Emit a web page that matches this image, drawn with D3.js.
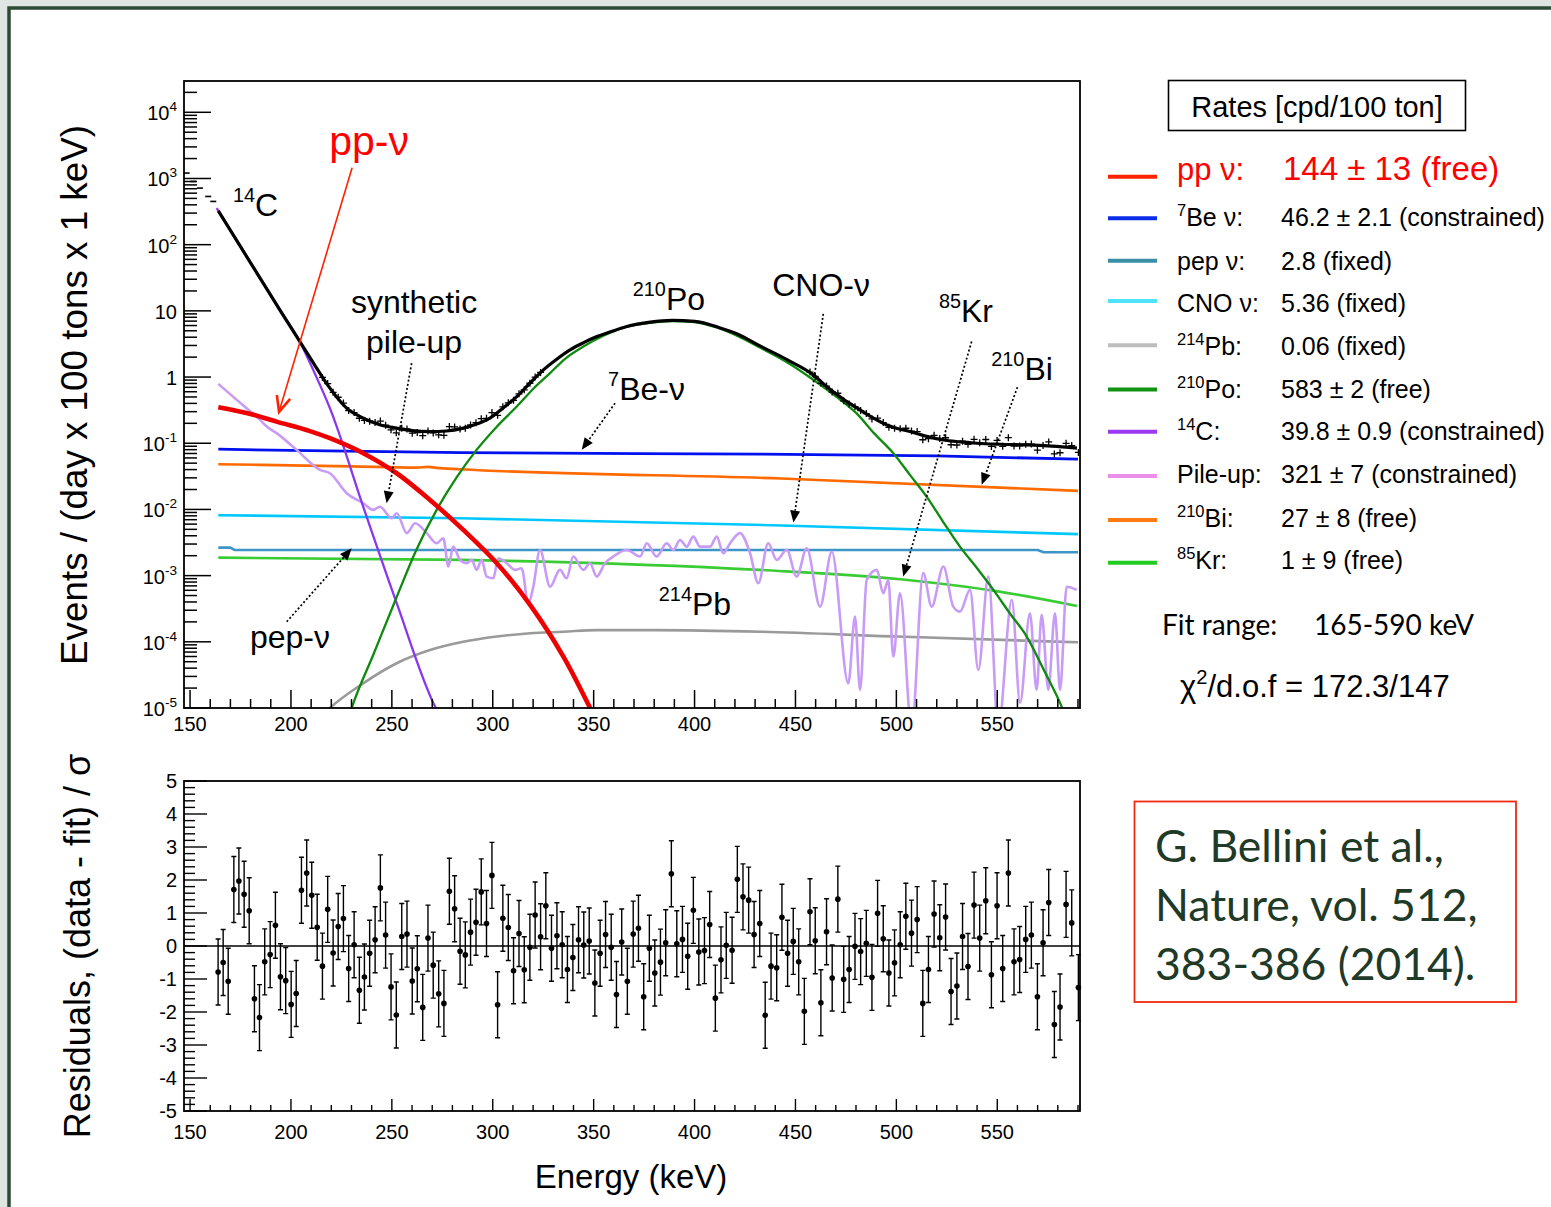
<!DOCTYPE html>
<html><head><meta charset="utf-8">
<script src="https://cdn.jsdelivr.net/npm/d3@7"></script>
<style>html,body{margin:0;padding:0;background:#dde5df;overflow:hidden}svg{display:block}</style>
</head><body>
<svg id="c" width="1551" height="1207"></svg>
<script>
// ---------------- DATA ----------------
// total fit (black)
const totalE = [164,175,185,195,204.5,212,219.3,227.6,235.9,244,252.4,260,268.9,277,285.4,292,298.6,305,311.9,318.5,325.1,331.7,338.3,345,351.6,358,366,378,389,400,412,422,432.4,446,458.8,465.4,473.5,482,488.7,495.3,506.8,515,523.3,531.6,539.9,552,564.6,577,589.5];
const totalV = [323.6,93.3,30.2,9.77,3.40,1.479,0.679,0.339,0.239,0.1905,0.169,0.155,0.150,0.153,0.169,0.195,0.239,0.339,0.507,0.813,1.285,1.862,2.576,3.311,4.093,4.786,5.754,6.761,7.161,6.918,5.623,4.365,2.951,1.820,1.079,0.718,0.468,0.319,0.240,0.189,0.150,0.127,0.112,0.105,0.100,0.0966,0.0944,0.0902,0.0841];
// data points below fit range
const preFitE = [148.3,151.6,154.9,159.0,161.5];
const preFitV = [1208,902,716,535,450];
// pp neutrinos
const ppE = [164,179,192.9,209,219.3,235.8,252.4,268.9,285.4,302,318.5,335,348.2,352];
const ppV = [0.351,0.282,0.212,0.154,0.119,0.0708,0.0352,0.0139,0.0049,0.00154,3.61e-4,5.98e-5,1.01e-5,6e-6];
// 7Be neutrinos
const be7E = [164,200,284,433,520,590];
const be7V = [0.0813,0.078,0.0723,0.0684,0.0644,0.0574];
// 210Bi
const bi210E = [164,230,262,268,272,284,443,590];
const bi210V = [0.0482,0.0447,0.0428,0.0440,0.0425,0.0405,0.0293,0.0191];
// CNO
const cnoE = [164,284,443,590];
const cnoV = [0.00819,0.00736,0.00573,0.00423];
// pep
const pepE = [164,170,172,570,573,590];
const pepV = [0.00265,0.00265,0.00244,0.00244,0.00226,0.00226];
// 85Kr
const kr85E = [164,284,432,502,551,589.5];
const kr85V = [1.87e-3,1.73e-3,1.22e-3,8.81e-4,5.73e-4,3.48e-4];
// 214Pb
const pb214E = [212,219.3,235.8,252.4,268.9,285.4,302,318.5,335,351.5,380,433,500,590];
const pb214V = [6e-6,1e-5,2.36e-5,4.74e-5,7.5e-5,1.0e-4,1.2e-4,1.35e-4,1.42e-4,1.5e-4,1.5e-4,1.42e-4,1.2e-4,9.84e-5];
// 210Po
const po210E = [229,230.1,241,252.4,262,272.2,282,292,302,311.9,320,328.4,336,344.9,354.8,366,378,389,400,412,422,432.4,446,458.8,470.4,480.3,489,498.5,507,515,523,531.5,540,548.1,556,564.6,573,581.9,586];
const po210V = [7.9e-6,1.0e-5,6.6e-5,4.76e-4,2.40e-3,9.84e-3,0.0302,0.0794,0.178,0.358,0.661,1.146,1.905,2.891,4.198,5.728,6.607,6.998,6.761,5.458,4.074,2.793,1.660,0.912,0.501,0.282,0.141,0.0708,0.0324,0.0156,6.61e-3,2.74e-3,1.29e-3,6.08e-4,2.75e-4,1.20e-4,3.80e-5,1.05e-5,5.0e-6];
// 14C
const c14E = [163.2,173.5,183.8,194.2,204.5,211.9,219.3,235.8,252.4,271.7,273.9];
const c14V = [357,111,34.7,10.8,3.37,1.12,0.339,0.0110,3.83e-4,1.01e-5,7.6e-6];
// synthetic pile-up
const pileE = [164.0,173.1,184.7,188.0,192.9,202.8,214.4,219.3,227.6,235.8,240.8,244.1,249.9,252.4,257.4,261.5,267.3,272.2,275.5,278.0,280.4,283.8,287.1,289.6,292.0,294.5,297.0,300.3,302.7,306.9,311.0,314.3,317.6,320.1,323.4,328.4,333.3,336.6,339.9,344.9,348.2,351.5,355.6,359.7,366.4,373.0,376.3,381.2,386.2,389.5,392.8,396.1,399.4,402.7,407.7,411.0,414.2,417.6,422.5,427.5,431.6,436.5,440.7,445.7,450.6,455.6,462.2,468.0,476.2,479.5,482.0,485.3,490.3,493.5,496.0,498.5,501.8,507.6,513.3,517.5,523.3,528.2,531.5,536.5,540.6,545.6,550.5,557.2,561.3,566.2,569.5,572.0,575.3,578.6,581.1,584.4,589.4];
const pileV = [0.789,0.452,0.225,0.179,0.142,0.0794,0.0395,0.0352,0.0176,0.0124,0.00984,0.0110,0.00736,0.00877,0.00438,0.00619,0.00438,0.00308,0.00367,0.00137,0.00274,0.00173,0.00154,0.00173,0.00122,0.00173,0.000966,0.000912,0.00183,0.00154,0.00122,0.00129,0.000383,0.00068,0.00244,0.00068,0.00122,0.000912,0.00194,0.00122,0.00154,0.000966,0.00154,0.00194,0.00244,0.00194,0.00308,0.00194,0.00308,0.00244,0.00346,0.00274,0.00388,0.00274,0.00274,0.00388,0.00218,0.00308,0.00438,0.00218,0.000767,0.00308,0.00173,0.00244,0.000966,0.00259,0.00034,0.0023,2.36e-5,2.4e-4,1.87e-5,8.6e-4,0.00122,5.42e-4,8.6e-4,5.95e-5,5.42e-4,5e-6,1.09e-3,3.4e-4,1.37e-3,3.4e-4,2.86e-4,6.08e-4,3.75e-5,9.66e-4,5e-6,4.28e-4,1.2e-5,2.7e-4,1.87e-5,2.55e-4,1.87e-5,2.7e-4,1.87e-5,6.8e-4,6.08e-4];
// residuals
const resE = [163.9,166.4,168.9,171.7,174.2,176.8,179.3,181.9,184.4,187.0,189.7,192.3,194.8,197.4,200.1,202.6,205.2,207.8,210.3,213.0,215.6,218.2,220.9,223.4,226.0,228.6,231.3,233.9,236.4,239.0,241.7,244.3,246.9,249.6,252.2,254.9,257.5,260.1,262.6,265.3,267.9,270.5,273.2,275.8,278.5,281.1,283.8,286.4,289.0,291.7,294.3,296.9,299.6,302.4,305.0,307.7,310.3,313.0,315.6,318.4,321.0,323.7,326.3,329.1,331.8,334.4,337.0,339.7,342.5,345.1,347.8,350.6,353.2,355.9,358.7,
361.3,363.9,366.7,369.6,372.2,374.8,377.6,380.3,383.1,385.7,388.5,391.2,394.0,396.6,399.4,402.1,404.9,407.5,410.3,413.1,415.7,418.6,421.2,424.0,426.8,429.5,432.3,435.0,437.9,440.7,443.3,446.1,448.9,451.6,454.4,457.2,459.8,462.6,465.4,468.2,471.0,473.9,476.6,479.5,482.3,485.1,487.9,490.7,493.5,496.3,499.1,501.9,504.7,507.5,510.3,513.1,515.9,518.7,521.5,524.4,527.1,530.0,532.8,535.5,538.5,541.3,544.3,547.1,549.9,552.7,555.5,558.3,561.1,564.1,566.9,569.9,572.7,575.5,578.3,581.1,584.1,586.9,590.2];
const resV = [-0.79,-0.5,-1.07,1.71,1.97,1.57,1.07,-1.6,-2.17,-0.48,-0.26,0.63,-0.93,-1.05,-1.77,-1.44,1.69,2.21,1.54,0.57,-0.61,1.11,-0.21,0.59,0.83,-0.68,0.04,-1.34,-0.94,-0.22,0.19,1.76,0.33,-1.24,-2.09,0.29,0.36,-1.06,-0.69,-1.86,0.24,-0.58,-1.45,-1.74,1.66,1.13,-0.16,-0.27,0.42,0.72,1.64,0.68,2.14,-1.78,0.84,0.56,-0.75,0.38,-0.72,-0.04,0.94,0.28,1.22,-0.07,0.31,0.04,-0.71,-0.35,0.19,0.03,0.15,-1.12,-0.22,0.35,-0.04,
-1.47,0.12,-1.07,0.36,0.54,-1.54,-0.07,-0.82,-0.49,0.1,2.19,0.07,0.2,-0.31,1.08,-0.18,-0.14,0.65,-1.58,-0.42,0.02,-0.13,2.02,1.49,1.39,0.35,0.68,-2.1,-0.61,-0.66,0.87,-0.22,0.14,-0.48,-1.98,1.04,0.16,-1.72,0.43,-0.97,1.42,-1.01,-0.71,-0.01,-0.17,0.08,-0.95,0.99,0.22,-0.82,-0.51,0.04,0.9,0.39,0.8,-1.74,-0.71,0.97,0.25,0.88,-1.38,-1.21,0.29,-0.62,1.24,0.24,1.37,-0.87,1.22,-0.68,2.21,-0.48,-0.41,0.2,0.33,-1.54,0.1,1.32,-2.38,-1.85,1.26,0.7,-1.26];
const resErr = 1.0;

// tick labels
const xMajorTicks = [150,200,250,300,350,400,450,500,550];
const xTickLabels = ["150","200","250","300","350","400","450","500","550"];
const logDecades = [-5,-4,-3,-2,-1,0,1,2,3,4];
const logTickLabels = [["10","-5"],["10","-4"],["10","-3"],["10","-2"],["10","-1"],["1",""],["10",""],["10","2"],["10","3"],["10","4"]];
const resMajorTicks = [-5,-4,-3,-2,-1,0,1,2,3,4,5];
const resTickLabels = ["-5","-4","-3","-2","-1","0","1","2","3","4","5"];

// legend
const legendSup = ["","7","","","214","210","14","","210","85"];
const legendName = ["pp \u03bd:","Be \u03bd:","pep \u03bd:","CNO \u03bd:","Pb:","Po:","C:","Pile-up:","Bi:","Kr:"];
const legendValue = ["144 \u00b1 13 (free)","46.2 \u00b1 2.1 (constrained)","2.8 (fixed)","5.36 (fixed)","0.06 (fixed)","583 \u00b1 2 (free)","39.8 \u00b1 0.9 (constrained)","321 \u00b1 7 (constrained)","27 \u00b1 8 (free)","1 \u00b1 9 (free)"];
const legendColor = ["#ff2200","#0a2ee8","#3a8fa6","#4ee3f8","#bdbdbd","#129212","#9b38f5","#ea8eea","#ff7a10","#22cc22"];

// ---------------- LAYOUT ----------------
const FONT = "'Liberation Sans', Arial, Helvetica, sans-serif";
const CAL = "Lato, 'Open Sans', sans-serif";
const X0=184, X1=1080, TY0=81, TY1=708, RY0=781, RY1=1111;
const x = d3.scaleLinear().domain([147,591]).range([X0,X1]);
const y = d3.scaleLog().domain([1e-5, 2.97e4]).range([TY1,TY0]);
const yr = d3.scaleLinear().domain([-5,5]).range([RY1,RY0]);

const svg = d3.select("#c").attr("font-family", FONT);
svg.append("rect").attr("width",1551).attr("height",1207).attr("fill","#dfe6e1");
svg.append("rect").attr("x",9).attr("y",8).attr("width",1600).attr("height",1300)
  .attr("fill","#fff").attr("stroke","#2d4a34").attr("stroke-width",3.5);

const defs = svg.append("defs");
defs.append("clipPath").attr("id","clipTop").append("rect")
  .attr("x",X0).attr("y",TY0).attr("width",X1-X0).attr("height",TY1-TY0);

function rich(parent, px, py, segs, size, opt={}) {
  const t = parent.append("text").attr("x",px).attr("y",py).attr("font-size",size)
    .attr("text-anchor", opt.anchor||"start").attr("fill", opt.fill||"#000")
    .attr("font-family", opt.family||FONT);
  let cur = 0;
  segs.forEach(s=>{
    if (!s.t) return;
    const sh = s.sup ? -size*(opt.supShift||0.42) : 0;
    t.append("tspan").attr("dy", sh-cur).attr("font-size", s.sup ? size*(opt.supScale||0.64) : size).text(s.t);
    cur = sh;
  });
  return t;
}

// ---------------- TOP PLOT ----------------
const gTop = svg.append("g");
const plotG = gTop.append("g").attr("clip-path","url(#clipTop)");
const line = d3.line().x(d=>x(d[0])).y(d=>y(d[1])).curve(d3.curveMonotoneX);
const pts = (E,V)=>E.map((e,i)=>[e,V[i]]);

const series = [
  {E:pb214E,V:pb214V,c:"#9a9a9a",w:2.6},
  {E:kr85E,V:kr85V,c:"#3acc33",w:2.6},
  {E:pepE,V:pepV,c:"#3d95c8",w:2.6,lin:true},
  {E:cnoE,V:cnoV,c:"#00c8ff",w:2.6},
  {E:bi210E,V:bi210V,c:"#ff6a00",w:2.6},
  {E:be7E,V:be7V,c:"#0010ee",w:2.8},
  {E:pileE,V:pileV,c:"#c89cf6",w:2.6},
  {E:c14E,V:c14V,c:"#8a38ee",w:2.3},
  {E:po210E,V:po210V,c:"#0e8a0e",w:2.3},
  {E:ppE,V:ppV,c:"#ee0000",w:4.6, cat:true},
];
series.forEach(s=>{
  const l = s.lin ? d3.line().x(d=>x(d[0])).y(d=>y(d[1]))
          : s.cat ? d3.line().x(d=>x(d[0])).y(d=>y(d[1])).curve(d3.curveCatmullRom.alpha(0.5)) : line;
  plotG.append("path").attr("d", l(pts(s.E,s.V))).attr("fill","none")
    .attr("stroke", s.c).attr("stroke-width", s.w).attr("stroke-linejoin","round");
});

// data points derived from fit + residuals
function totalAt(e){
  let i = d3.bisectRight(totalE, e) - 1;
  i = Math.max(0, Math.min(totalE.length-2, i));
  const t = (e-totalE[i])/(totalE[i+1]-totalE[i]);
  return Math.pow(10, Math.log10(totalV[i]) + t*(Math.log10(totalV[i+1])-Math.log10(totalV[i])));
}
const dataG = plotG.append("g").attr("stroke","#000").attr("stroke-width",1.3);
resE.forEach((e,i)=>{
  const tv = totalAt(Math.max(e,164));
  if (tv > 1.2) return;
  const dv = tv*Math.pow(10, resV[i]*0.045*Math.sqrt(0.1/tv));
  const px = x(e), py = y(dv);
  dataG.append("path").attr("d",`M${px-3.5},${py}H${px+3.5}M${px},${py-3.5}V${py+3.5}`);
});
preFitE.forEach((e,i)=>{
  const px=x(e), py=y(preFitV[i]);
  dataG.append("path").attr("d",`M${px-3},${py}H${px+3}`).attr("stroke-width",1.6);
});
plotG.append("path").attr("d", line(pts(totalE,totalV))).attr("fill","none")
  .attr("stroke","#000").attr("stroke-width",3.2);

// frame
gTop.append("rect").attr("x",X0).attr("y",TY0).attr("width",X1-X0).attr("height",TY1-TY0)
  .attr("fill","none").attr("stroke","#000").attr("stroke-width",1.8);

// y log ticks
const axG = gTop.append("g").attr("stroke","#000").attr("stroke-width",1.5);
logDecades.forEach((d,i)=>{
  for (let k=1;k<=9;k++){
    const v = k*Math.pow(10,d);
    if (v>y.domain()[1]) continue;
    const len = k===1 ? 27 : 13;
    axG.append("line").attr("x1",X0).attr("x2",X0+len).attr("y1",y(v)).attr("y2",y(v));
  }
  const lab = logTickLabels[i];
  rich(gTop, 177, y(Math.pow(10,d))+8, [{t:lab[0]},{t:lab[1],sup:true}], 20, {anchor:"end", supShift:0.45, supScale:0.68});
});
// x ticks top
for (let e=150;e<=590;e+=10){
  const major = xMajorTicks.includes(e);
  axG.append("line").attr("x1",x(e)).attr("x2",x(e)).attr("y1",TY1).attr("y2",TY1-(major?18:9));
}
xMajorTicks.forEach((e,i)=>{
  gTop.append("text").attr("x",x(e)).attr("y",731).attr("text-anchor","middle").attr("font-size",20).text(xTickLabels[i]);
});

// annotations (anchored in data coordinates)
const annG = gTop.append("g");
rich(annG, x(171.3), y(273), [{t:"14",sup:true},{t:"C"}], 32, {supScale:0.62});
rich(annG, x(238.7), y(2280), [{t:"pp-\u03bd"}], 41, {anchor:"middle", fill:"#ff0000"});
rich(annG, x(261.0), y(9.33), [{t:"synthetic"}], 32, {anchor:"middle"});
rich(annG, x(261.0), y(2.32), [{t:"pile-up"}], 32, {anchor:"middle"});
rich(annG, x(387.3), y(10.4), [{t:"210",sup:true},{t:"Po"}], 32, {anchor:"middle",supScale:0.62});
rich(annG, x(462.7), y(16.9), [{t:"CNO-\u03bd"}], 32, {anchor:"middle"});
rich(annG, x(534.5), y(6.82), [{t:"85",sup:true},{t:"Kr"}], 32, {anchor:"middle",supScale:0.62});
rich(annG, x(562.3), y(0.908), [{t:"210",sup:true},{t:"Bi"}], 32, {anchor:"middle",supScale:0.62});
rich(annG, x(376.2), y(0.452), [{t:"7",sup:true},{t:"Be-\u03bd"}], 32, {anchor:"middle",supScale:0.62});
rich(annG, x(199.5), y(8.07e-5), [{t:"pep-\u03bd"}], 32, {anchor:"middle"});
rich(annG, x(400.2), y(2.55e-4), [{t:"214",sup:true},{t:"Pb"}], 32, {anchor:"middle",supScale:0.62});

function arrow(E1,V1,E2,V2,opt){
  const x1=x(E1),y1=y(V1),x2=x(E2),y2=y(V2);
  const ang=Math.atan2(y2-y1,x2-x1);
  if (opt.open){
    annG.append("line").attr("x1",x1).attr("y1",y1).attr("x2",x2).attr("y2",y2)
      .attr("stroke",opt.color).attr("stroke-width",1.6);
    const L=17, a=0.42;
    const p1=[x2-L*Math.cos(ang-a), y2-L*Math.sin(ang-a)];
    const p2=[x2-L*Math.cos(ang+a), y2-L*Math.sin(ang+a)];
    annG.append("path").attr("d",`M${p1[0]},${p1[1]}L${x2},${y2}L${p2[0]},${p2[1]}`)
      .attr("fill","none").attr("stroke",opt.color).attr("stroke-width",2.6);
  } else {
    const L=12, hw=5;
    const bx=x2-L*Math.cos(ang), by=y2-L*Math.sin(ang);
    annG.append("line").attr("x1",x1).attr("y1",y1).attr("x2",bx).attr("y2",by)
      .attr("stroke","#000").attr("stroke-width",1.7).attr("stroke-dasharray","2,2.2");
    const nx=-Math.sin(ang), ny=Math.cos(ang);
    annG.append("path").attr("d",`M${x2},${y2}L${bx+nx*hw},${by+ny*hw}L${bx-nx*hw},${by-ny*hw}Z`).attr("fill","#000");
  }
}
arrow(230.3,1452,194.1,0.298,{open:true,color:"#ff2200"});
arrow(259.8,1.62,247.4,0.0124,{});
arrow(463.8,9.02,449.0,0.00632,{});
arrow(537.3,3.44,503.4,9.66e-4,{});
arrow(560.0,0.703,542.3,0.0235,{});
arrow(360.6,0.403,344.1,0.0794,{});
arrow(197.9,2.01e-4,230.1,2.59e-3,{});

// y title
svg.append("text").attr("transform","translate(87,395) rotate(-90)").attr("text-anchor","middle")
  .attr("font-size",36.8).text("Events / (day x 100 tons x 1 keV)");

// ---------------- RESIDUALS ----------------
const gRes = svg.append("g");
gRes.append("line").attr("x1",X0).attr("x2",X1).attr("y1",yr(0)).attr("y2",yr(0)).attr("stroke","#000").attr("stroke-width",1.6);
const rG = gRes.append("g").attr("stroke","#000").attr("stroke-width",1.4);
resE.forEach((e,i)=>{
  const px=x(e), lo=yr(resV[i]-resErr), hi=yr(resV[i]+resErr);
  rG.append("path").attr("d",`M${px},${lo}V${hi}M${px-2.5},${lo}H${px+2.5}M${px-2.5},${hi}H${px+2.5}`);
});
gRes.selectAll("circle").data(resE).join("circle").attr("cx",d=>x(d)).attr("cy",(d,i)=>yr(resV[i])).attr("r",2.8).attr("fill","#000");
gRes.append("rect").attr("x",X0).attr("y",RY0).attr("width",X1-X0).attr("height",RY1-RY0)
  .attr("fill","none").attr("stroke","#000").attr("stroke-width",1.8);
const rax = gRes.append("g").attr("stroke","#000").attr("stroke-width",1.4);
for (let v=-50; v<=50; v+=2){
  const val=v/10, major = v%10===0;
  rax.append("line").attr("x1",X0).attr("x2",X0+(major?23:11)).attr("y1",yr(val)).attr("y2",yr(val));
}
resMajorTicks.forEach((v,i)=>{
  gRes.append("text").attr("x",177).attr("y",yr(v)+7).attr("text-anchor","end").attr("font-size",20).text(resTickLabels[i]);
});
for (let e=150;e<=590;e+=10){
  const major = xMajorTicks.includes(e);
  rax.append("line").attr("x1",x(e)).attr("x2",x(e)).attr("y1",RY1).attr("y2",RY1-(major?12:6));
}
xMajorTicks.forEach((e,i)=>{
  gRes.append("text").attr("x",x(e)).attr("y",1139).attr("text-anchor","middle").attr("font-size",20).text(xTickLabels[i]);
});
svg.append("text").attr("transform","translate(90,946) rotate(-90)").attr("text-anchor","middle")
  .attr("font-size",36).text("Residuals, (data - fit) / \u03c3");
svg.append("text").attr("x",631).attr("y",1188).attr("text-anchor","middle").attr("font-size",33).text("Energy (keV)");

// ---------------- LEGEND ----------------
const lg = svg.append("g");
lg.append("rect").attr("x",1168.5).attr("y",80.5).attr("width",297).attr("height",50)
  .attr("fill","none").attr("stroke","#000").attr("stroke-width",1.6);
lg.append("text").attr("x",1317).attr("y",117).attr("text-anchor","middle").attr("font-size",29).text("Rates [cpd/100 ton]");
const lineYs = [176.7,218.3,260.7,301,345.3,389.5,431.7,476,520,562.7];
const baseYs = [180,226,270,312,355,398,440,483,527,569];
legendName.forEach((n,i)=>{
  lg.append("line").attr("x1",1108).attr("x2",1157).attr("y1",lineYs[i]).attr("y2",lineYs[i])
    .attr("stroke",legendColor[i]).attr("stroke-width",4);
  const first = i===0;
  const col = first ? "#ff0000" : "#000";
  rich(lg, 1177, baseYs[i], [{t:legendSup[i],sup:true},{t:n}], first?31:25, {fill:col, supScale:0.66, supShift:0.4});
  lg.append("text").attr("x", first?1283:1281).attr("y",baseYs[i]).attr("font-size", first?33:25)
    .attr("fill",col).text(legendValue[i]);
});
svg.append("text").attr("x",1162).attr("y",635).attr("font-family",CAL).attr("font-size",28).text("Fit range:");
svg.append("text").attr("x",1314).attr("y",635).attr("font-family",CAL).attr("font-size",28).text("165-590 keV");
rich(svg, 1180, 697, [{t:"\u03c7"},{t:"2",sup:true},{t:"/d.o.f = 172.3/147"}], 31, {supScale:0.65});

// citation box
svg.append("rect").attr("x",1134.5).attr("y",801.5).attr("width",381.5).attr("height",200.5)
  .attr("fill","none").attr("stroke","#f02a10").attr("stroke-width",1.8);
const citeLines = ["G. Bellini et al.,","Nature, vol. 512,","383-386 (2014)."];
const citeYs = [862,921,980];
citeLines.forEach((t,i)=>{
  svg.append("text").attr("x",1155).attr("y",citeYs[i]).attr("font-family",CAL)
    .attr("font-size",44.5).attr("fill","#1f3a27").text(t);
});
</script>
</body></html>
